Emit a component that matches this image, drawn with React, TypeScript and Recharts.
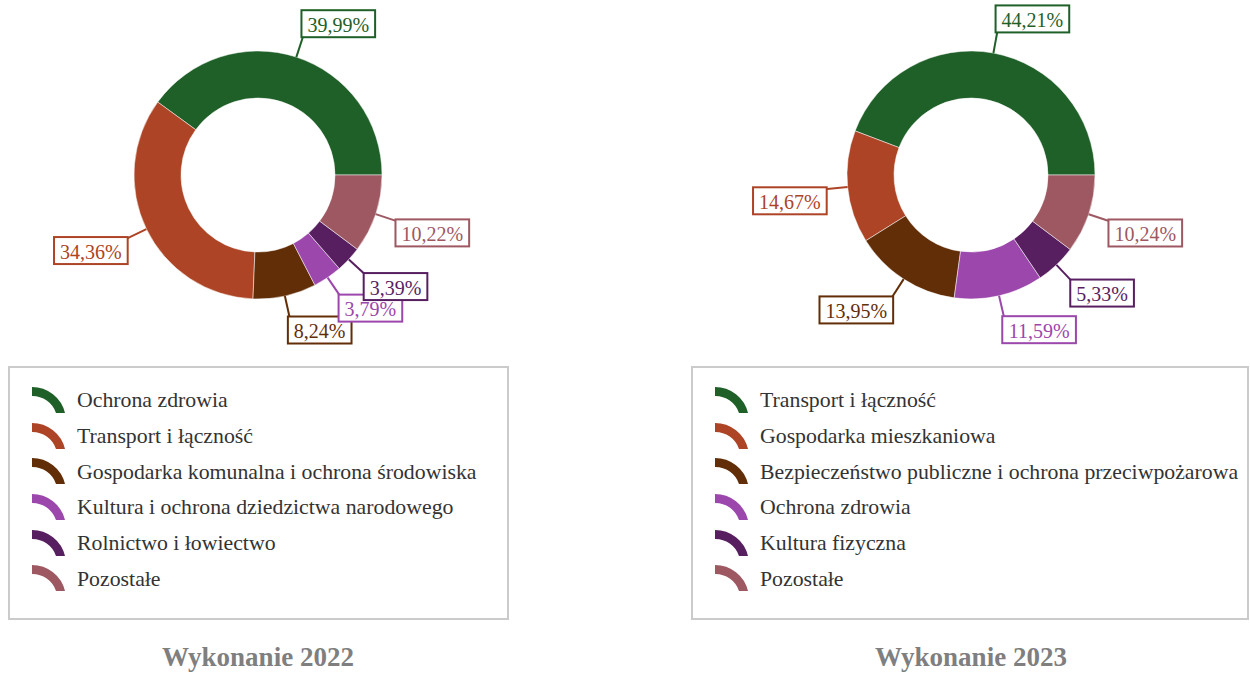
import React from 'react';
import { PieChart, Pie, Cell } from 'recharts';

const NAMES_2022 = [
  'Ochrona zdrowia',
  'Transport i łączność',
  'Gospodarka komunalna i ochrona środowiska',
  'Kultura i ochrona dziedzictwa narodowego',
  'Rolnictwo i łowiectwo',
  'Pozostałe',
];
const VALUES_2022 = [39.99, 34.36, 8.24, 3.79, 3.39, 10.22];

const NAMES_2023 = [
  'Transport i łączność',
  'Gospodarka mieszkaniowa',
  'Bezpieczeństwo publiczne i ochrona przeciwpożarowa',
  'Ochrona zdrowia',
  'Kultura fizyczna',
  'Pozostałe',
];
const VALUES_2023 = [44.21, 14.67, 13.95, 11.59, 5.33, 10.24];

const COLORS = ['#1f5f28', '#ad4426', '#622e08', '#9c47ac', '#571f60', '#9d5862'];

const FONT = '"Liberation Serif", "Times New Roman", serif';
const RAD = Math.PI / 180;

const fmt = (v: number) => v.toFixed(2).replace('.', ',') + '%';

const textWidth = (s: string, size: number) => {
  let w = 0;
  for (const ch of s) {
    if (ch === ',') w += 0.25;
    else if (ch === '%') w += 0.833;
    else w += 0.5;
  }
  return w * size;
};

const renderLabel = (props: any) => {
  const { cx, cy, midAngle, outerRadius, value, index } = props;
  const color = COLORS[index % COLORS.length];
  const cos = Math.cos(-midAngle * RAD);
  const sin = Math.sin(-midAngle * RAD);
  const sx = cx + outerRadius * cos;
  const sy = cy + outerRadius * sin;
  const ex = cx + (outerRadius + 23) * cos;
  const ey = cy + (outerRadius + 23) * sin;
  const text = fmt(value);
  const w = textWidth(text, 20) + 12;
  const h = 27;
  const bx = cos >= 0 ? ex - 2 : ex + 2 - w;
  const by = sin < 0 ? ey + 2 - h : ey - 2;
  return (
    <g>
      <line x1={sx} y1={sy} x2={ex} y2={ey} stroke={color} strokeWidth={2} />
      <rect x={bx} y={by} width={w} height={h} fill="#fff" stroke={color} strokeWidth={2} />
      <text
        x={bx + w / 2}
        y={by + h / 2 + 1}
        textAnchor="middle"
        dominantBaseline="central"
        fontSize={20}
        fontFamily={FONT}
        fill={color}
      >
        {text}
      </text>
    </g>
  );
};

const LegendIcon = ({ color }: { color: string }) => (
  <svg width={36} height={28} style={{ display: 'block' }}>
    <path
      d="M1,0 A34,34 0 0 1 34,26 L25,26 A25,25 0 0 0 1,9 Z"
      fill={color}
    />
  </svg>
);

function Donut({ names, values, left, cx, legendLeft, legendWidth, title }: any) {
  const data = names.map((n: string, i: number) => ({ name: n, value: values[i] }));
  return (
    <>
      <div style={{ position: 'absolute', left, top: 0 }}>
        <PieChart width={625} height={360} margin={{ top: 0, right: 0, bottom: 0, left: 0 }}>
          <Pie
            data={data}
            dataKey="value"
            cx={cx}
            cy={175}
            innerRadius={77}
            outerRadius={124}
            startAngle={0}
            endAngle={360}
            stroke="#ffffff"
            strokeWidth={1}
            strokeOpacity={0.5}
            label={renderLabel}
            labelLine={false}
            isAnimationActive={false}
          >
            {data.map((_: any, i: number) => (
              <Cell key={`c-${i}`} fill={COLORS[i % COLORS.length]} />
            ))}
          </Pie>
        </PieChart>
      </div>
      <div
        style={{
          position: 'absolute',
          left: legendLeft,
          top: 366,
          width: legendWidth,
          height: 254,
          border: '2px solid #cbcbcb',
          boxSizing: 'border-box',
          paddingTop: 15,
          fontFamily: FONT,
          fontSize: 21.8,
          color: '#333',
        }}
      >
        {names.map((n: string, i: number) => (
          <div
            key={n}
            style={{ display: 'flex', alignItems: 'center', height: 35.7, paddingLeft: 21 }}
          >
            <LegendIcon color={COLORS[i]} />
            <span style={{ marginLeft: 10, whiteSpace: 'nowrap' }}>{n}</span>
          </div>
        ))}
      </div>
      <div
        style={{
          position: 'absolute',
          left: left + cx - 150,
          width: 300,
          top: 642,
          textAlign: 'center',
          fontFamily: FONT,
          fontWeight: 'bold',
          fontSize: 27,
          color: '#7f7f7f',
        }}
      >
        {title}
      </div>
    </>
  );
}

export default function App() {
  return (
    <div
      style={{
        position: 'absolute',
        left: 0,
        top: 0,
        width: 1250,
        height: 675,
        background: '#fff',
        overflow: 'hidden',
      }}
    >
      <Donut
        names={NAMES_2022}
        values={VALUES_2022}
        left={0}
        cx={258}
        legendLeft={8}
        legendWidth={501}
        title="Wykonanie 2022"
      />
      <Donut
        names={NAMES_2023}
        values={VALUES_2023}
        left={625}
        cx={346}
        legendLeft={691}
        legendWidth={558}
        title="Wykonanie 2023"
      />
    </div>
  );
}
